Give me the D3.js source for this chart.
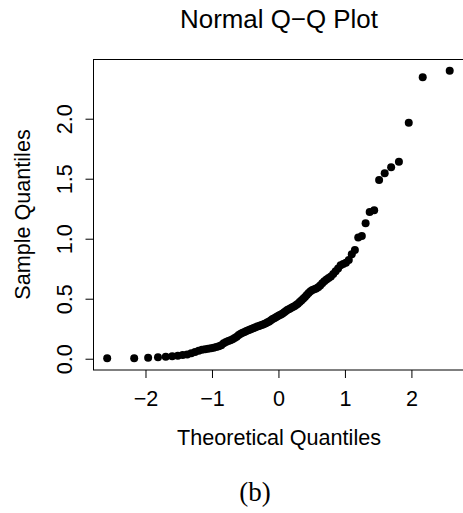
<!DOCTYPE html>
<html>
<head>
<meta charset="utf-8">
<script src="https://cdn.jsdelivr.net/npm/d3@7"></script>
<style>
  html, body { margin: 0; padding: 0; background: #fff; }
  svg { display: block; }
  text { font-family: "Liberation Sans", Arial, Helvetica, sans-serif; fill: #000; }
</style>
</head>
<body>
<svg id="chart" width="463" height="513"></svg>
<script>
// Theoretical normal quantiles (n = 100)
const theoretical = [
  -2.576, -2.170, -1.960, -1.812, -1.695, -1.598, -1.514, -1.440, -1.372, -1.311,
  -1.254, -1.200, -1.150, -1.103, -1.058, -1.015, -0.974, -0.935, -0.897, -0.860,
  -0.824, -0.789, -0.755, -0.723, -0.690, -0.659, -0.628, -0.598, -0.568, -0.539,
  -0.510, -0.482, -0.454, -0.426, -0.399, -0.372, -0.345, -0.319, -0.292, -0.266,
  -0.240, -0.215, -0.189, -0.164, -0.138, -0.113, -0.088, -0.063, -0.038, -0.013,
   0.013,  0.038,  0.063,  0.088,  0.113,  0.138,  0.164,  0.189,  0.215,  0.240,
   0.266,  0.292,  0.319,  0.345,  0.372,  0.399,  0.426,  0.454,  0.482,  0.510,
   0.539,  0.568,  0.598,  0.628,  0.659,  0.690,  0.723,  0.755,  0.789,  0.824,
   0.860,  0.897,  0.935,  0.974,  1.015,  1.058,  1.103,  1.150,  1.200,  1.254,
   1.311,  1.372,  1.440,  1.514,  1.598,  1.695,  1.812,  1.960,  2.170,  2.576
];
// Sorted sample values
const sample = [
  0.003, 0.004, 0.008, 0.012, 0.016, 0.020, 0.025, 0.030, 0.036, 0.045,
  0.055, 0.066, 0.074, 0.079, 0.084, 0.088, 0.092, 0.097, 0.103, 0.113,
  0.128, 0.140, 0.147, 0.153, 0.162, 0.172, 0.184, 0.197, 0.208, 0.216,
  0.223, 0.230, 0.237, 0.243, 0.249, 0.256, 0.262, 0.268, 0.273, 0.278,
  0.284, 0.290, 0.296, 0.303, 0.311, 0.320, 0.330, 0.338, 0.346, 0.354,
  0.362, 0.369, 0.377, 0.387, 0.398, 0.408, 0.415, 0.422, 0.430, 0.438,
  0.447, 0.458, 0.472, 0.486, 0.499, 0.514, 0.530, 0.548, 0.562, 0.572,
  0.578, 0.585, 0.595, 0.610, 0.628, 0.645, 0.660, 0.672, 0.685, 0.705,
  0.728, 0.752, 0.778, 0.790, 0.800, 0.822, 0.870, 0.906, 1.010, 1.022,
  1.128, 1.222, 1.238, 1.489, 1.545, 1.595, 1.642, 1.967, 2.345, 2.400
];
const xTicks = [-2, -1, 0, 1, 2];
const yTicks = [0.0, 0.5, 1.0, 1.5, 2.0];
const title = "Normal Q\u2212Q Plot";
const xLabel = "Theoretical Quantiles";
const yLabel = "Sample Quantiles";
const caption = "(b)";

const svg = d3.select("#chart");
const fs = 21.6;

const x = d3.scaleLinear().domain([-2.782, 2.782]).range([93.5, 463.4]);
const y = d3.scaleLinear().domain([-0.094, 2.4975]).range([370, 59]);

// box
svg.append("rect")
  .attr("x", 93.5).attr("y", 59.5)
  .attr("width", 463.4 - 93.5 + 5).attr("height", 370 - 59.5)
  .attr("fill", "none").attr("stroke", "#000").attr("stroke-width", 1);

// points
svg.append("g").selectAll("circle")
  .data(sample.map((v, i) => [theoretical[i], v]))
  .join("circle")
  .attr("cx", d => x(d[0]))
  .attr("cy", d => y(d[1]))
  .attr("r", 4)
  .attr("fill", "#000");

// x axis
const xAxis = svg.append("g")
  .attr("transform", "translate(0,370)")
  .call(d3.axisBottom(x).tickValues(xTicks).tickSize(8)
    .tickFormat(d => d < 0 ? "\u2212" + Math.abs(d) : String(d)));
xAxis.select(".domain").remove();
xAxis.selectAll(".tick line").attr("stroke", "#000");
xAxis.selectAll(".tick text")
  .attr("y", 36).attr("dy", 0)
  .style("font-size", fs + "px")
  .style("font-family", '"Liberation Sans", Arial, sans-serif');

// y axis
const yAxis = svg.append("g")
  .attr("transform", "translate(93.5,0)")
  .call(d3.axisLeft(y).tickValues(yTicks).tickSize(8).tickFormat(d3.format(".1f")));
yAxis.select(".domain").remove();
yAxis.selectAll(".tick line").attr("stroke", "#000");
yAxis.selectAll(".tick text")
  .attr("x", 0).attr("y", 0).attr("dy", 0)
  .attr("text-anchor", "middle")
  .attr("transform", "translate(-22,0) rotate(-90)")
  .style("font-size", fs + "px")
  .style("font-family", '"Liberation Sans", Arial, sans-serif');

// title
svg.append("text")
  .attr("x", 279).attr("y", 28)
  .attr("text-anchor", "middle")
  .style("font-size", "25.9px")
  .text(title);

// x label
svg.append("text")
  .attr("x", 279).attr("y", 445)
  .attr("text-anchor", "middle")
  .style("font-size", fs + "px")
  .text(xLabel);

// y label
svg.append("text")
  .attr("transform", "translate(30,214.5) rotate(-90)")
  .attr("text-anchor", "middle")
  .style("font-size", fs + "px")
  .text(yLabel);

// caption
svg.append("text")
  .attr("x", 255).attr("y", 501)
  .attr("text-anchor", "middle")
  .style("font-family", '"Liberation Serif", "DejaVu Serif", serif')
  .style("font-size", "27px")
  .text(caption);
</script>
</body>
</html>
